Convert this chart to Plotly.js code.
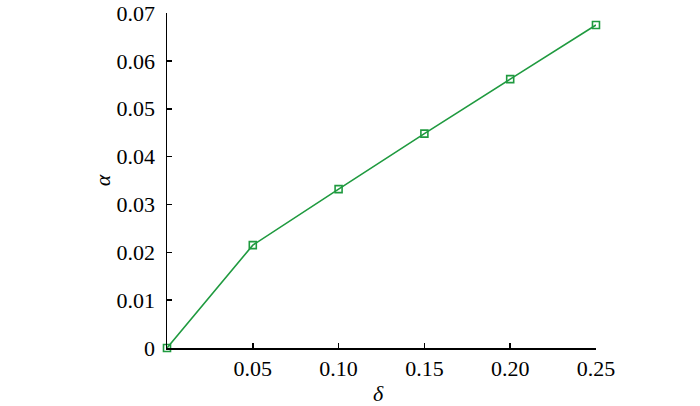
<!DOCTYPE html>
<html>
<head>
<meta charset="utf-8">
<script src="https://cdn.plot.ly/plotly-3.0.1.min.js"></script>
<style>html,body{margin:0;padding:0;background:#fff;}#chart{width:700px;height:406px;}</style>
</head>
<body>
<div id="chart"></div>
<script>
var delta = [0, 0.05, 0.10, 0.15, 0.20, 0.25];
var alpha = [0, 0.0215, 0.0332, 0.0448, 0.0562, 0.0675];
var xTickVals = [0.05, 0.10, 0.15, 0.20, 0.25];
var xTickText = ["0.05", "0.10", "0.15", "0.20", "0.25"];
var yTickVals = [0, 0.01, 0.02, 0.03, 0.04, 0.05, 0.06, 0.07];
var yTickText = ["0", "0.01", "0.02", "0.03", "0.04", "0.05", "0.06", "0.07"];

var trace = {
  x: delta, y: alpha, type: 'scatter', mode: 'lines+markers',
  line: {color: '#1f9a3f', width: 1.6},
  marker: {symbol: 'square-open', size: 7, color: '#1f9a3f', line: {width: 1.6, color: '#1f9a3f'}},
  cliponaxis: false, showlegend: false
};
var font = {family: '"Liberation Serif", "Times New Roman", serif', size: 22, color: '#000'};
var layout = {
  width: 700, height: 406,
  margin: {l: 167, r: 104, t: 13, b: 58, pad: 0},
  paper_bgcolor: '#fff', plot_bgcolor: '#fff',
  font: font,
  xaxis: {
    range: [0, 0.25001], tickvals: xTickVals, ticktext: xTickText,
    ticks: 'inside', ticklen: 5, tickwidth: 1.5, tickcolor: '#000',
    showline: true, linecolor: '#000', linewidth: 1.5, showgrid: false, zeroline: false,
    tickfont: font, mirror: false, ticklabeloverflow: 'allow'
  },
  yaxis: {
    range: [0, 0.07001], tickvals: yTickVals, ticktext: yTickText,
    ticks: 'inside', ticklen: 5, tickwidth: 1.5, tickcolor: '#000',
    showline: true, linecolor: '#000', linewidth: 1.5, showgrid: false, zeroline: false,
    tickfont: font, mirror: false, ticklabelstandoff: 6, ticklabeloverflow: 'allow'
  },
  annotations: [
    {text: 'α', xref: 'paper', yref: 'paper', x: -0.15, y: 0.5, xanchor: 'center', yanchor: 'middle',
     showarrow: false, textangle: -90, font: {family: '"Liberation Serif", serif', size: 22, color: '#000', style: 'italic'}},
    {text: 'δ', xref: 'paper', yref: 'paper', x: 0.494, y: -0.135, xanchor: 'center', yanchor: 'middle',
     showarrow: false, font: {family: '"Liberation Serif", serif', size: 22, color: '#000', style: 'italic'}}
  ]
};
Plotly.newPlot('chart', [trace], layout, {displayModeBar: false, staticPlot: true});
</script>
</body>
</html>
